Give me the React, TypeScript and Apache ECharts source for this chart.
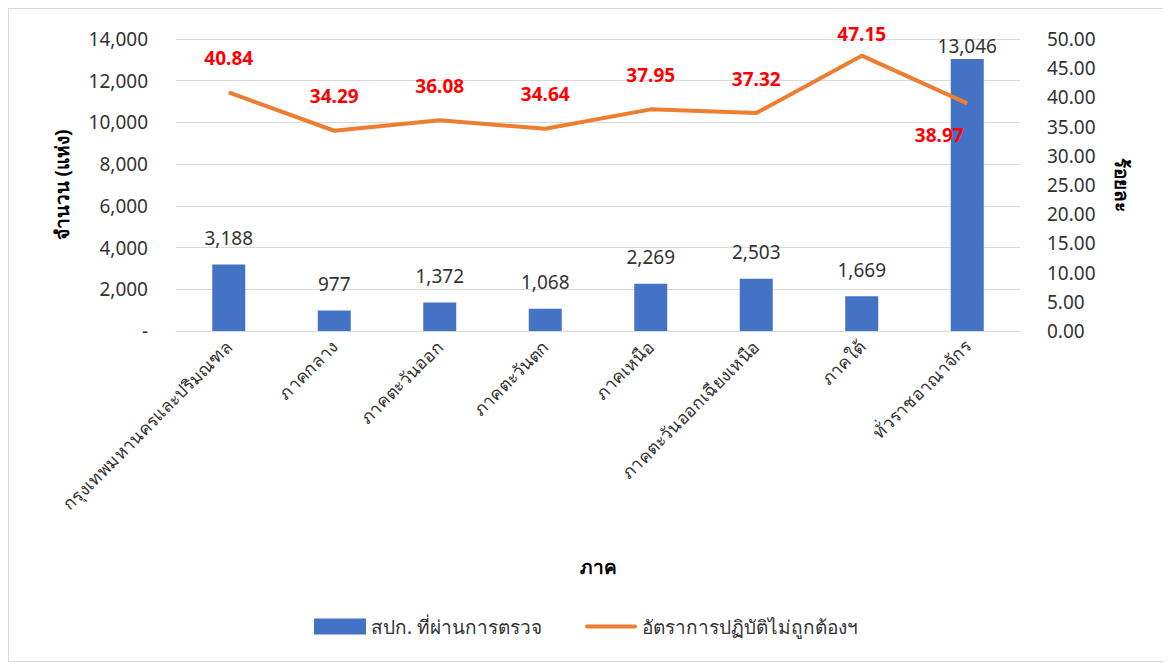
import React, { useEffect, useRef } from "react";
import * as echarts from "echarts";

const categories = [
  "กรุงเทพมหานครและปริมณฑล",
  "ภาคกลาง",
  "ภาคตะวันออก",
  "ภาคตะวันตก",
  "ภาคเหนือ",
  "ภาคตะวันออกเฉียงเหนือ",
  "ภาคใต้",
  "ทั่วราชอาณาจักร",
];
const inspected = [3188, 977, 1372, 1068, 2269, 2503, 1669, 13046];
const rates = [40.84, 34.29, 36.08, 34.64, 37.95, 37.32, 47.15, 38.97];

const barName = "สปก. ที่ผ่านการตรวจ";
const lineName = "อัตราการปฏิบัติไม่ถูกต้องฯ";

const FONT = "'Noto Sans', 'DejaVu Sans', sans-serif";

export default function App() {
  const ref = useRef<HTMLDivElement>(null);
  useEffect(() => {
    if (!ref.current) return;
    const chart = echarts.init(ref.current, undefined, { renderer: "svg" });
    const last = categories.length - 1;
    chart.setOption({
      animation: false,
      textStyle: { fontFamily: FONT },
      grid: { left: 167, right: 143, top: 30, bottom: 330, containLabel: false },
      legend: {
        bottom: 20,
        left: "center",
        itemWidth: 52,
        itemHeight: 16,
        itemGap: 43,
        textStyle: { fontSize: 19, color: "#333", fontFamily: FONT },
        data: [
          { name: barName, icon: "rect" },
          {
            name: lineName,
            icon: "path://M2,0 L50,0 A2,2 0 0 1 50,4 L2,4 A2,2 0 0 1 2,0 Z",
            itemStyle: { color: "#ED7D31" },
          },
        ],
      },
      xAxis: {
        type: "category",
        data: categories,
        name: "ภาค",
        nameLocation: "middle",
        nameGap: 226,
        nameTextStyle: { fontSize: 19, fontWeight: "bold", color: "#000" },
        axisTick: { show: false },
        axisLine: { lineStyle: { color: "#D9D9D9", width: 1 } },
        axisLabel: { rotate: 45, fontSize: 17.5, color: "#333", margin: 12, interval: 0 },
      },
      yAxis: [
        {
          type: "value",
          min: 0,
          max: 14000,
          interval: 2000,
          name: "จำนวน (แห่ง)",
          nameLocation: "middle",
          nameGap: 105,
          nameTextStyle: { fontSize: 19, fontWeight: "bold", color: "#000" },
          axisLine: { show: false },
          axisTick: { show: false },
          splitLine: { lineStyle: { color: "#D9D9D9" } },
          axisLabel: {
            fontSize: 19,
            color: "#333",
            margin: 28,
            formatter: (v: number) => (v === 0 ? "-" : v.toLocaleString("en-US")),
          },
        },
        {
          type: "value",
          min: 0,
          max: 50,
          interval: 5,
          name: "ร้อยละ",
          nameLocation: "middle",
          nameGap: 92,
          nameRotate: -90,
          nameTextStyle: { fontSize: 19, fontWeight: "bold", color: "#000" },
          axisLine: { show: false },
          axisTick: { show: false },
          splitLine: { show: false },
          axisLabel: {
            fontSize: 19,
            color: "#333",
            margin: 27,
            formatter: (v: number) => v.toFixed(2),
          },
        },
      ],
      series: [
        {
          name: barName,
          type: "bar",
          data: inspected.map((v, i) =>
            i === last ? { value: v, label: { distance: 3 } } : v
          ),
          barWidth: 33,
          itemStyle: { color: "#4472C4" },
          label: {
            show: true,
            position: "top",
            distance: 17,
            fontSize: 19,
            color: "#333",
            formatter: (p: any) => Number(p.value).toLocaleString("en-US"),
          },
        },
        {
          name: lineName,
          type: "line",
          yAxisIndex: 1,
          data: rates.map((v, i) => {
            if (i === last) return { value: v, label: { position: "bottom", offset: [-28, -3] } };
            if (i === 6) return { value: v, label: { distance: 12 } };
            return v;
          }),
          showSymbol: true,
          symbol: "circle",
          symbolSize: 0.1,
          lineStyle: { color: "#ED7D31", width: 4 },
          itemStyle: { color: "#ED7D31" },
          label: {
            show: true,
            position: "top",
            distance: 25,
            fontSize: 19,
            fontWeight: "bold",
            color: "#FF0000",
            formatter: (p: any) => Number(p.value).toFixed(2),
          },
        },
      ],
    });
    return () => chart.dispose();
  }, []);
  return (
    <div
      ref={ref}
      style={{
        width: 1156,
        height: 654,
        border: "1px solid #D9D9D9",
        boxSizing: "border-box",
        background: "#fff",
      }}
    />
  );
}
